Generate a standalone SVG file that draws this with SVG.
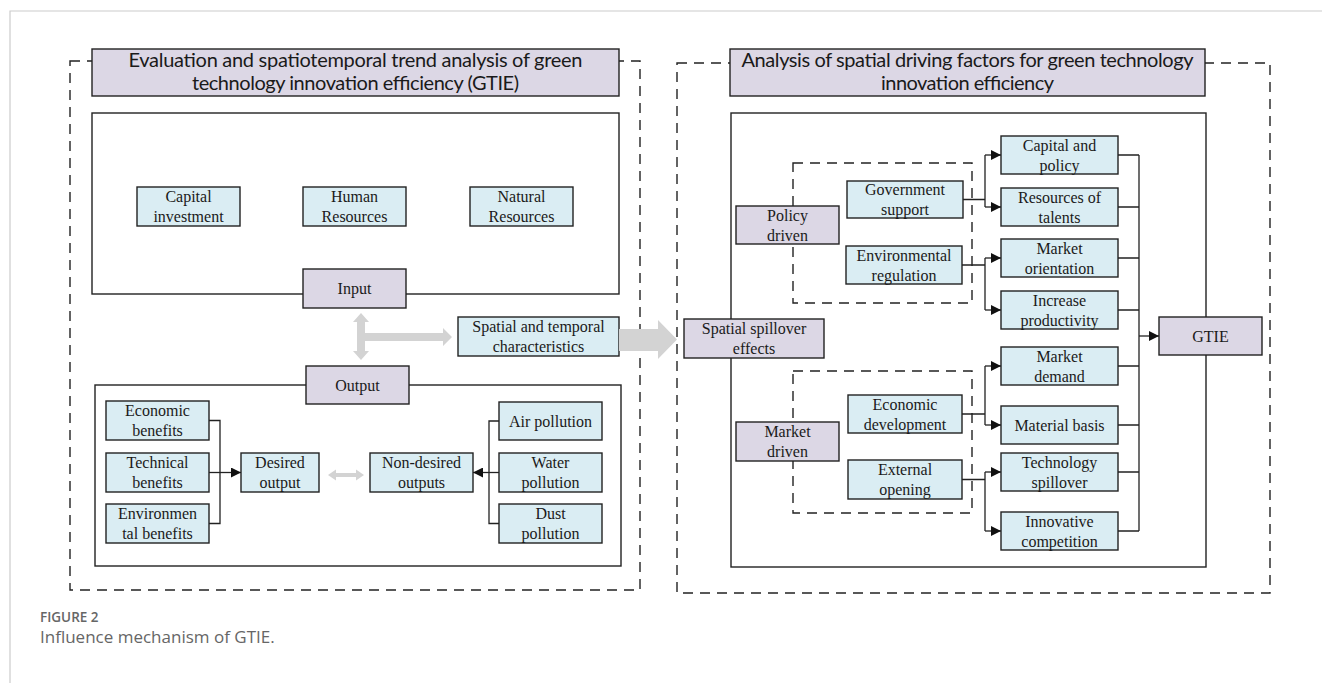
<svg xmlns="http://www.w3.org/2000/svg" width="1322" height="683" viewBox="0 0 1322 683">
<style>
.frame{fill:none;stroke:#cccccc;stroke-width:1.2}
.dash{fill:none;stroke:#222;stroke-width:1.4;stroke-dasharray:10 7}
.solid{fill:none;stroke:#222;stroke-width:1.4}
.lav{fill:#dcd7e5;stroke:#222;stroke-width:1.4}
.blue{fill:#daedf3;stroke:#222;stroke-width:1.4}
.t{font-family:"Liberation Serif","Times New Roman",serif;font-size:16px;fill:#1a1a1a;text-anchor:middle}
.title{font-family:Lato,"Liberation Sans",sans-serif;font-size:20px;fill:#1a1a1a;text-anchor:middle}
.gray{fill:#d3d3d3;stroke:none}
.conn{fill:none;stroke:#222;stroke-width:1.3}
.cap1{font-family:"Open Sans","Liberation Sans",sans-serif;font-size:13.5px;font-weight:600;fill:#666}
.cap2{font-family:"Open Sans","Liberation Sans",sans-serif;font-size:17px;fill:#666}
</style>
<defs>
<marker id="ah" markerUnits="userSpaceOnUse" markerWidth="10" markerHeight="10" refX="10" refY="5" orient="auto">
<path d="M0,0 L10,5 L0,10 z" fill="#111"/>
</marker>
</defs>
<rect width="1322" height="683" fill="#fff"/>
<path class="frame" d="M10,683 V11 H1322"/>

<!-- left panel -->
<g id="left-frame"><rect class="dash" x="70" y="61" width="570" height="529"/></g>
<g id="left-title">
<rect class="lav" x="92" y="49" width="527" height="47"/>
<text class="title" x="355.5" y="67" textLength="454">Evaluation and spatiotemporal trend analysis of green</text>
<text class="title" x="355.5" y="90" textLength="327">technology innovation efficiency (GTIE)</text>
</g>
<g id="input-area"><rect class="solid" x="92" y="113" width="527" height="181"/></g>
<g id="capital-investment"><rect class="blue" x="137" y="187" width="103" height="39"/><text class="t" x="188.5" y="202">Capital</text><text class="t" x="188.5" y="222">investment</text></g>
<g id="human-resources"><rect class="blue" x="303" y="187" width="103" height="39"/><text class="t" x="354.5" y="202">Human</text><text class="t" x="354.5" y="222">Resources</text></g>
<g id="natural-resources"><rect class="blue" x="470" y="187" width="103" height="39"/><text class="t" x="521.5" y="202">Natural</text><text class="t" x="521.5" y="222">Resources</text></g>
<g id="input"><rect class="lav" x="303" y="269" width="103" height="39"/><text class="t" x="354.5" y="294">Input</text></g>
<g id="spatial-temporal"><rect class="blue" x="458" y="317" width="161" height="39"/><text class="t" x="538.5" y="332">Spatial and temporal</text><text class="t" x="538.5" y="352">characteristics</text></g>
<g id="output-area"><rect class="solid" x="95" y="385" width="526" height="181"/></g>
<g id="output"><rect class="lav" x="306" y="366" width="103" height="38"/><text class="t" x="357.5" y="390.5">Output</text></g>
<g id="economic-benefits"><rect class="blue" x="106" y="401" width="103" height="39"/><text class="t" x="157.5" y="416">Economic</text><text class="t" x="157.5" y="436">benefits</text></g>
<g id="technical-benefits"><rect class="blue" x="106" y="453" width="103" height="39"/><text class="t" x="157.5" y="468">Technical</text><text class="t" x="157.5" y="488">benefits</text></g>
<g id="environmental-benefits"><rect class="blue" x="106" y="504" width="103" height="39"/><text class="t" x="157.5" y="519">Environmen</text><text class="t" x="157.5" y="539">tal benefits</text></g>
<g id="desired-output"><rect class="blue" x="241" y="453" width="78" height="39"/><text class="t" x="280" y="468">Desired</text><text class="t" x="280" y="488">output</text></g>
<g id="non-desired-outputs"><rect class="blue" x="370" y="453" width="103" height="39"/><text class="t" x="421.5" y="468">Non-desired</text><text class="t" x="421.5" y="488">outputs</text></g>
<g id="air-pollution"><rect class="blue" x="499" y="402" width="103" height="38"/><text class="t" x="550.5" y="426.5">Air pollution</text></g>
<g id="water-pollution"><rect class="blue" x="499" y="453" width="103" height="39"/><text class="t" x="550.5" y="468">Water</text><text class="t" x="550.5" y="488">pollution</text></g>
<g id="dust-pollution"><rect class="blue" x="499" y="504" width="103" height="39"/><text class="t" x="550.5" y="519">Dust</text><text class="t" x="550.5" y="539">pollution</text></g>

<!-- right panel -->
<g id="right-frame"><rect class="dash" x="677" y="63" width="593" height="530"/></g>
<g id="right-title">
<rect class="lav" x="730" y="49" width="475" height="47"/>
<text class="title" x="967.5" y="67" textLength="452">Analysis of spatial driving factors for green technology</text>
<text class="title" x="967.5" y="90" textLength="173">innovation efficiency</text>
</g>
<g id="driving-area"><rect class="solid" x="731" y="113" width="475" height="454"/></g>
<g id="policy-group"><rect class="dash" x="793" y="163" width="179" height="140"/></g>
<g id="market-group"><rect class="dash" x="793" y="371" width="179" height="142"/></g>
<g id="spatial-spillover"><rect class="lav" x="684" y="319" width="140" height="39"/><text class="t" x="754" y="334">Spatial spillover</text><text class="t" x="754" y="354">effects</text></g>
<g id="policy-driven"><rect class="lav" x="736" y="206" width="103" height="38"/><text class="t" x="787.5" y="220.5">Policy</text><text class="t" x="787.5" y="240.5">driven</text></g>
<g id="government-support"><rect class="blue" x="847" y="181" width="116" height="37"/><text class="t" x="905" y="195">Government</text><text class="t" x="905" y="215">support</text></g>
<g id="environmental-regulation"><rect class="blue" x="846" y="246" width="116" height="38"/><text class="t" x="904" y="260.5">Environmental</text><text class="t" x="904" y="280.5">regulation</text></g>
<g id="market-driven"><rect class="lav" x="736" y="422" width="103" height="39"/><text class="t" x="787.5" y="437">Market</text><text class="t" x="787.5" y="457">driven</text></g>
<g id="economic-development"><rect class="blue" x="848" y="395" width="114" height="38"/><text class="t" x="905" y="409.5">Economic</text><text class="t" x="905" y="429.5">development</text></g>
<g id="external-opening"><rect class="blue" x="848" y="460" width="114" height="39"/><text class="t" x="905" y="475">External</text><text class="t" x="905" y="495">opening</text></g>
<g id="capital-policy"><rect class="blue" x="1001" y="136" width="117" height="38"/><text class="t" x="1059.5" y="150.5">Capital and</text><text class="t" x="1059.5" y="170.5">policy</text></g>
<g id="resources-talents"><rect class="blue" x="1001" y="188" width="117" height="38"/><text class="t" x="1059.5" y="202.5">Resources of</text><text class="t" x="1059.5" y="222.5">talents</text></g>
<g id="market-orientation"><rect class="blue" x="1001" y="239" width="117" height="38"/><text class="t" x="1059.5" y="253.5">Market</text><text class="t" x="1059.5" y="273.5">orientation</text></g>
<g id="increase-productivity"><rect class="blue" x="1001" y="291" width="117" height="38"/><text class="t" x="1059.5" y="305.5">Increase</text><text class="t" x="1059.5" y="325.5">productivity</text></g>
<g id="market-demand"><rect class="blue" x="1001" y="347" width="117" height="38"/><text class="t" x="1059.5" y="361.5">Market</text><text class="t" x="1059.5" y="381.5">demand</text></g>
<g id="material-basis"><rect class="blue" x="1001" y="406" width="117" height="38"/><text class="t" x="1059.5" y="430.5">Material basis</text></g>
<g id="technology-spillover"><rect class="blue" x="1001" y="453" width="117" height="38"/><text class="t" x="1059.5" y="467.5">Technology</text><text class="t" x="1059.5" y="487.5">spillover</text></g>
<g id="innovative-competition"><rect class="blue" x="1001" y="512" width="117" height="38"/><text class="t" x="1059.5" y="526.5">Innovative</text><text class="t" x="1059.5" y="546.5">competition</text></g>
<g id="gtie"><rect class="lav" x="1159" y="317" width="103" height="38"/><text class="t" x="1210.5" y="341.5">GTIE</text></g>

<g id="connectors">
<!-- gray arrows -->
<path class="gray" d="M357,322 H353 L361,313 L369,322 H365 V351 H369 L361,360 L353,351 H357 Z"/>
<path class="gray" d="M365,333 H443 V328 L452,337 L443,346 V341 H365 Z"/>
<path class="gray" d="M619,329 H658 V320 L677,339.5 L658,359 V351 H619 Z"/>
<path class="gray" d="M336,473 H356 V469.5 L364,475 L356,480.5 V477 H336 V480.5 L328,475 L336,469.5 Z"/>
<!-- left brackets -->
<path class="conn" d="M209,420.5 H220 V523.5 H209"/>
<path class="conn" d="M209,472.5 H241" marker-end="url(#ah)"/>
<path class="conn" d="M499,421 H489 V523.5 H499"/>
<path class="conn" d="M499,472.5 H473" marker-end="url(#ah)"/>
<!-- right panel fan-out -->
<path class="conn" d="M963,199.5 H985 M985,155 V207"/>
<path class="conn" d="M985,155 H1001" marker-end="url(#ah)"/>
<path class="conn" d="M985,207 H1001" marker-end="url(#ah)"/>
<path class="conn" d="M962,265 H985 M985,258 V310"/>
<path class="conn" d="M985,258 H1001" marker-end="url(#ah)"/>
<path class="conn" d="M985,310 H1001" marker-end="url(#ah)"/>
<path class="conn" d="M962,414 H985 M985,366 V425"/>
<path class="conn" d="M985,366 H1001" marker-end="url(#ah)"/>
<path class="conn" d="M985,425 H1001" marker-end="url(#ah)"/>
<path class="conn" d="M962,479.5 H985 M985,472 V531"/>
<path class="conn" d="M985,472 H1001" marker-end="url(#ah)"/>
<path class="conn" d="M985,531 H1001" marker-end="url(#ah)"/>
<!-- right bus -->
<path class="conn" d="M1118,155 H1139 M1118,207 H1139 M1118,258 H1139 M1118,310 H1139 M1118,366 H1139 M1118,425 H1139 M1118,472 H1139 M1118,531 H1139 M1139,155 V531"/>
<path class="conn" d="M1139,336 H1159" marker-end="url(#ah)"/>
</g>

<text class="cap1" x="40" y="622">FIGURE 2</text>
<text class="cap2" x="40" y="643">Influence mechanism of GTIE.</text>
</svg>
